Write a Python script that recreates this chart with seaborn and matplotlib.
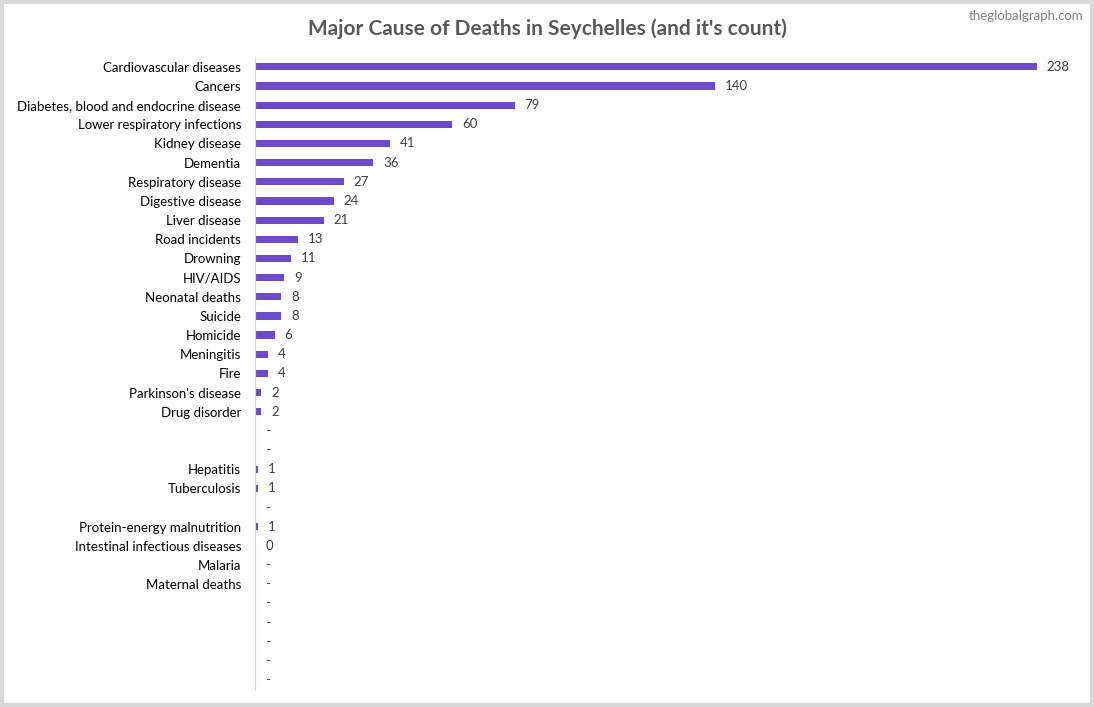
import numpy as np
import pandas as pd
import matplotlib
matplotlib.use("Agg")
import matplotlib.pyplot as plt
import seaborn as sns

causes = ["Cardiovascular diseases", "Cancers", "Diabetes, blood and endocrine disease",
          "Lower respiratory infections", "Kidney disease", "Dementia", "Respiratory disease",
          "Digestive disease", "Liver disease", "Road incidents", "Drowning", "HIV/AIDS",
          "Neonatal deaths", "Suicide", "Homicide", "Meningitis", "Fire", "Parkinson's disease",
          "Drug disorder", "", "", "Hepatitis", "Tuberculosis", "", "Protein-energy malnutrition",
          "Intestinal infectious diseases", "Malaria", "Maternal deaths", "", "", "", "", ""]
counts = [238, 140, 79, 60, 41, 36, 27, 24, 21, 13, 11, 9, 8, 8, 6, 4, 4, 2, 2,
          None, None, 1, 1, None, 1, 0.4, None, None, None, None, None, None, None]

BAR = "#6A4BC9"
TXT = "#404040"
plt.rcParams["font.family"] = "Lato"

keys = [f"k{i}" for i in range(len(causes))]
df = pd.DataFrame({"key": keys, "count": [np.nan if v is None else v for v in counts]})

fig = plt.figure(figsize=(10.94, 7.07), dpi=100)
fig.patch.set_facecolor("white")
ax = fig.add_axes([0.233, 0.0246, 0.751, 0.8944])
sns.barplot(data=df, x="count", y="key", color=BAR, width=0.38, saturation=1, ax=ax)
ax.set_xlim(0, 250)
ax.set_yticks(range(len(causes)))
ax.set_yticklabels(causes, fontsize=9.5, color="black")
ax.tick_params(axis="y", length=0, pad=10)
ax.set_xticks([])
ax.set_xlabel("")
ax.set_ylabel("")
for s in ["top", "right", "bottom"]:
    ax.spines[s].set_visible(False)
ax.spines["left"].set_color("#D9D9D9")

for i, v in enumerate(counts):
    if v is None:
        ax.text(3, i, "-", va="center", ha="left", fontsize=9.5, color=TXT)
    else:
        ax.text(v + 3, i, f"{v:.0f}", va="center", ha="left", fontsize=9.5, color=TXT)

fig.text(0.5, 0.96, "Major Cause of Deaths in Seychelles (and it's count)", ha="center",
         va="center", fontsize=15, fontweight="bold", color="#595959")
fig.text(0.99, 0.977, "theglobalgraph.com", ha="right", va="center", fontsize=9.5, color="#808080")
fig.add_artist(plt.Rectangle((0.002, 0.003), 0.996, 0.994, transform=fig.transFigure,
                             fill=False, edgecolor="#D9D9D9", linewidth=3))
fig.savefig("out.png", dpi=100)
